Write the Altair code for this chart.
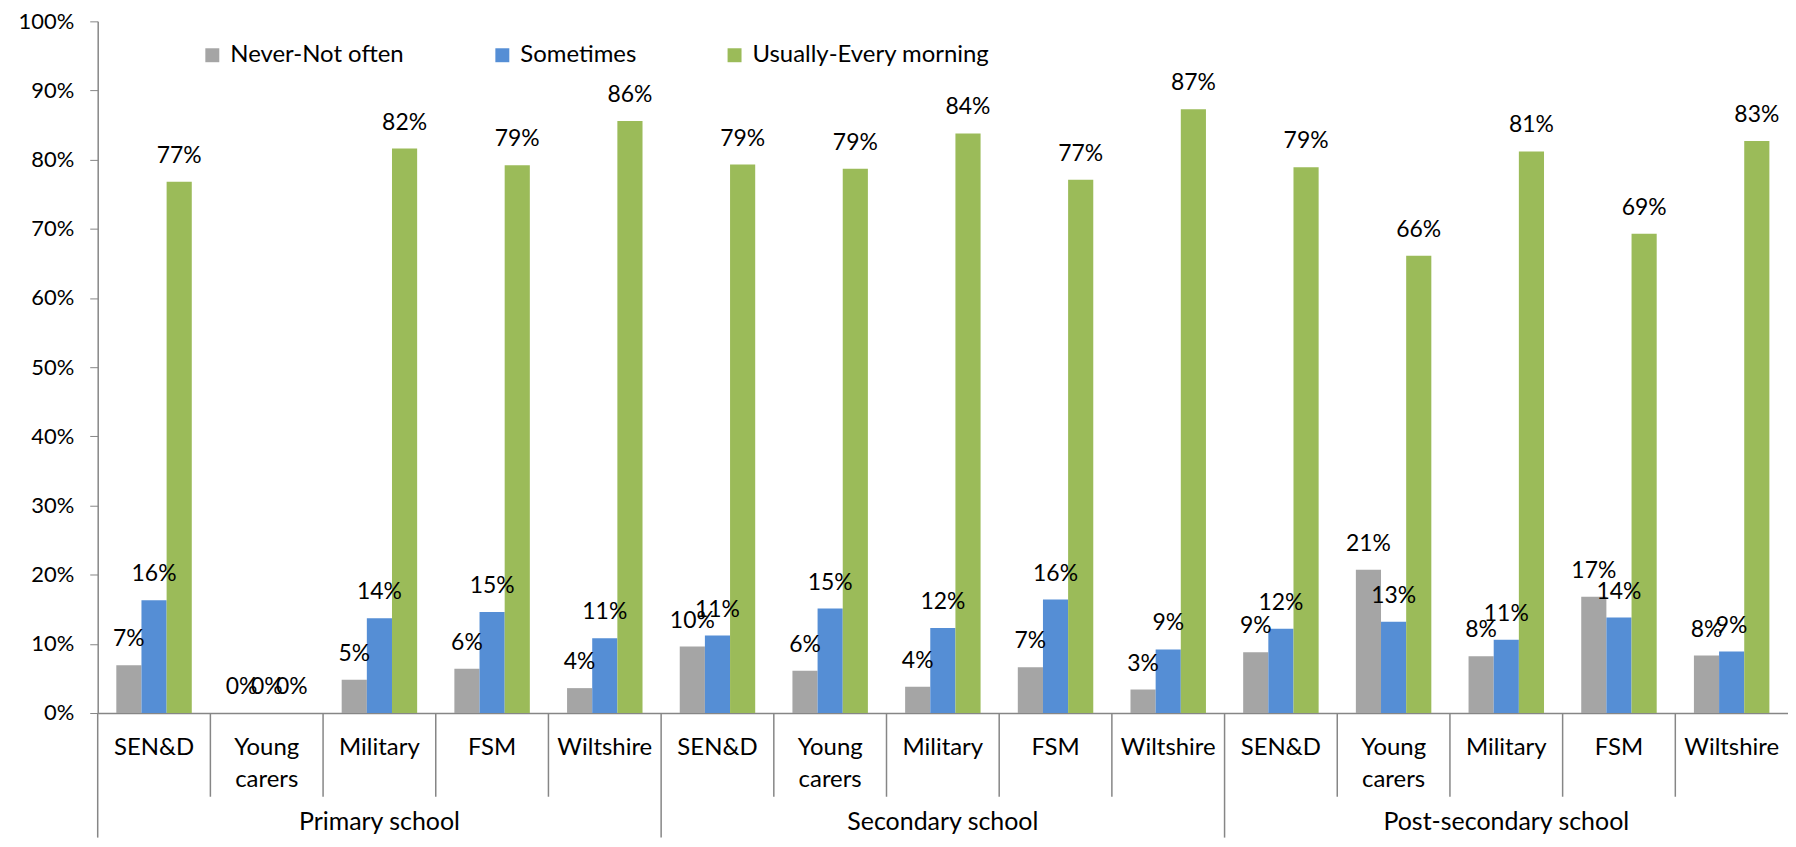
import altair as alt
import pandas as pd

# ---- data ----
groups = ["Primary school", "Secondary school", "Post-secondary school"]
categories = ["SEN&D", "Young carers", "Military", "FSM", "Wiltshire"]
category_labels = ["SEN&D", "Young\ncarers", "Military", "FSM", "Wiltshire"]
series = ["Never-Not often", "Sometimes", "Usually-Every morning"]
colors = ["#A5A5A5", "#558ED5", "#9BBB59"]

# percentages, in order: Primary (5 categories), Secondary (5), Post-secondary (5)
never = [6.9, 0, 4.8, 6.4, 3.6, 9.6, 6.1, 3.8, 6.6, 3.4, 8.8, 20.7, 8.2, 16.8, 8.3]
sometimes = [16.3, 0, 13.7, 14.6, 10.8, 11.2, 15.1, 12.3, 16.4, 9.2, 12.2, 13.2, 10.6, 13.8, 8.9]
usually = [76.8, 0, 81.6, 79.2, 85.6, 79.3, 78.7, 83.8, 77.1, 87.3, 78.9, 66.1, 81.2, 69.3, 82.7]
y_ticks = [0, 0.1, 0.2, 0.3, 0.4, 0.5, 0.6, 0.7, 0.8, 0.9, 1.0]

# ---- tables ----
keys = [f"{g}|{c}" for g in groups for c in categories]
rows = []
for i, k in enumerate(keys):
    for s, vals in zip(series, [never, sometimes, usually]):
        rows.append({"key": k, "series": s, "value": vals[i] / 100})
df = pd.DataFrame(rows)

cat_df = pd.DataFrame({
    "key": keys,
    "label": [category_labels[i % len(categories)] for i in range(len(keys))],
    "first": [i % len(categories) == 0 for i in range(len(keys))],
})
grp_df = pd.DataFrame({"key": [f"{g}|Military" for g in groups], "label": groups})

W, H = 1696, 694
FONT = "Lato"
GRAY = "#868686"

x_axis = alt.Axis(labels=False, ticks=False, title=None, domainColor=GRAY, domainWidth=1.5)
x_scale = alt.Scale(paddingInner=0, paddingOuter=0)
xenc = alt.X("key:N", sort=keys, scale=x_scale, axis=x_axis)
xrule = alt.X("key:N", sort=keys, scale=x_scale, axis=x_axis, bandPosition=0)
xoff = alt.XOffset("series:N", sort=series, scale=alt.Scale(paddingInner=0, paddingOuter=0.74))
yenc = alt.Y("value:Q", scale=alt.Scale(domain=[0, 1]),
             axis=alt.Axis(values=y_ticks, format=".0%", title=None, grid=False,
                           tickSize=8, tickColor=GRAY, domainColor=GRAY, domainWidth=1.5,
                           labelFontSize=22, labelFont=FONT, labelColor="black", labelPadding=16))

bars = alt.Chart(df).mark_bar(strokeWidth=0).encode(
    x=xenc,
    xOffset=xoff,
    y=yenc,
    color=alt.Color("series:N", sort=series,
                    scale=alt.Scale(domain=series, range=colors),
                    legend=alt.Legend(orient="none", legendX=103, legendY=22, direction="horizontal",
                                      symbolType="square", symbolSize=196, symbolStrokeWidth=0,
                                      labelFontSize=24, labelFont=FONT, labelColor="black",
                                      labelLimit=500, columnPadding=86, labelOffset=6,
                                      title=None, padding=0)),
)

value_labels = alt.Chart(df).mark_text(baseline="middle", dy=-26, fontSize=23, font=FONT, color="black").encode(
    x=xenc,
    xOffset=xoff,
    y=yenc,
    text=alt.Text("value:Q", format=".0%"),
)

inner_rules = alt.Chart(cat_df).transform_filter("!datum.first").mark_rule(color=GRAY, strokeWidth=1.5).encode(
    x=xrule, y=alt.value(H), y2=alt.value(H + 84)
)
group_rules = alt.Chart(cat_df).transform_filter("datum.first").mark_rule(color=GRAY, strokeWidth=1.5).encode(
    x=xrule, y=alt.value(H), y2=alt.value(H + 125)
)

cat_text = alt.Chart(cat_df).mark_text(baseline="top", lineBreak="\n", lineHeight=32,
                                       fontSize=24, font=FONT, color="black").encode(
    x=xenc, y=alt.value(H + 23), text="label:N"
)
grp_text = alt.Chart(grp_df).mark_text(baseline="middle", fontSize=25, font=FONT, color="black").encode(
    x=xenc, y=alt.value(H + 109), text="label:N"
)

chart = alt.layer(bars, value_labels, inner_rules, group_rules, cat_text, grp_text).properties(
    width=W, height=H,
    autosize=alt.AutoSizeParams(type="none"),
    padding={"left": 90, "top": 12, "right": 0, "bottom": 125},
).configure_view(stroke=None)

chart.save("out.html", embed_options={"renderer": "svg", "actions": False})
